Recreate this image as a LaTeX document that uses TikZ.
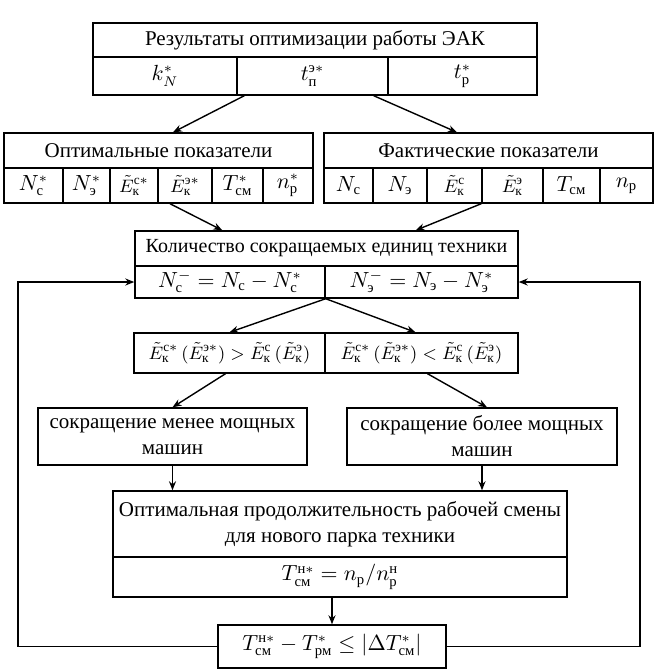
\documentclass[tikz,border=0pt]{standalone}
\usepackage{amsmath}
\usepackage{fontspec}
\setmainfont{Liberation Serif}
\usetikzlibrary{arrows.meta}
\tikzset{every node/.style={rectangle,draw,line width=0.7pt,inner sep=0pt,align=center}}
\tikzset{t/.style={font=\fontsize{10.5}{13}\selectfont}}
\tikzset{sm/.style={font=\fontsize{9.5}{12}\selectfont}}
\newcommand{\cy}[1]{\text{#1}}

\begin{document}
\begin{tikzpicture}[x=0.5pt,y=-0.5pt,t,line width=0.7pt,>={Stealth[length=4.5pt,width=3.5pt]}]
  \useasboundingbox (0,0) rectangle (655,671);
  % results
  \node[minimum width=222pt,minimum height=17pt] (res) at (315,40) {Результаты оптимизации работы ЭАК};
  \node[minimum width=72pt,minimum height=19pt] (kn) at (165,76) {$k_N^*$};
  \node[minimum width=75.5pt,minimum height=19pt] (tp) at (312.5,76) {$t_{\cy{п}}^{\cy{э}*}$};
  \node[minimum width=74.5pt,minimum height=19pt] (tr) at (462.5,76) {$t_{\cy{р}}^*$};
  % optimal
  \node[minimum width=154.5pt,minimum height=17.5pt] (opt) at (158.5,150.5) {Оптимальные показатели};
  \node[minimum width=29.5pt,minimum height=17.5pt] (oNc) at (33.5,185.5) {$N_{\cy{с}}^*$};
  \node[minimum width=23.5pt,minimum height=17.5pt] (oNe) at (86.5,185.5) {$N_{\cy{э}}^*$};
  \node[minimum width=24pt,minimum height=17.5pt,sm] (oEc) at (134,185.5) {$\tilde E_{\cy{к}}^{\cy{с}*}$};
  \node[minimum width=27pt,minimum height=17.5pt,sm] (oEe) at (185,185.5) {$\tilde E_{\cy{к}}^{\cy{э}*}$};
  \node[minimum width=25.5pt,minimum height=17.5pt] (oT) at (237.5,185.5) {$T_{\cy{см}}^*$};
  \node[minimum width=25pt,minimum height=17.5pt] (on) at (288,185.5) {$n_{\cy{р}}^*$};
  % actual
  \node[minimum width=164.5pt,minimum height=17.5pt] (fact) at (488.5,150.5) {Фактические показатели};
  \node[minimum width=24.5pt,minimum height=17.5pt] (fNc) at (348.5,185.5) {$N_{\cy{с}}$};
  \node[minimum width=27pt,minimum height=17.5pt] (fNe) at (400,185.5) {$N_{\cy{э}}$};
  \node[minimum width=27.5pt,minimum height=17.5pt,sm] (fEc) at (454.5,185.5) {$\tilde E_{\cy{к}}^{\cy{с}}$};
  \node[minimum width=30.5pt,minimum height=17.5pt,sm] (fEe) at (512.5,185.5) {$\tilde E_{\cy{к}}^{\cy{э}}$};
  \node[minimum width=28.5pt,minimum height=17.5pt] (fT) at (571.5,185.5) {$T_{\cy{см}}$};
  \node[minimum width=26.5pt,minimum height=17.5pt] (fn) at (626.5,185.5) {$n_{\cy{р}}$};
  % reduced units
  \node[minimum width=191.5pt,minimum height=17.5pt,font=\fontsize{10}{12}\selectfont] (qty) at (326.5,248.5) {Количество сокращаемых единиц техники};
  \node[minimum width=95pt,minimum height=16pt] (nc) at (230,282) {$N_{\cy{с}}^- = N_{\cy{с}} - N_{\cy{с}}^*$};
  \node[minimum width=96.5pt,minimum height=16pt] (ne) at (421.5,282) {$N_{\cy{э}}^- = N_{\cy{э}} - N_{\cy{э}}^*$};
  % comparison
  \node[minimum width=95.5pt,minimum height=20pt,sm] (gt) at (229.5,353) {$\tilde E_{\cy{к}}^{\cy{с}*}\,(\tilde E_{\cy{к}}^{\cy{э}*}) > \tilde E_{\cy{к}}^{\cy{с}}\,(\tilde E_{\cy{к}}^{\cy{э}})$};
  \node[minimum width=96.5pt,minimum height=20pt,sm] (lt) at (421.5,353) {$\tilde E_{\cy{к}}^{\cy{с}*}\,(\tilde E_{\cy{к}}^{\cy{э}*}) < \tilde E_{\cy{к}}^{\cy{с}}\,(\tilde E_{\cy{к}}^{\cy{э}})$};
  \node[minimum width=134.5pt,minimum height=28.5pt] (less) at (172.5,436.5) {сокращение менее мощных\\машин};
  \node[minimum width=135pt,minimum height=28.5pt] (more) at (482,436.5) {сокращение более мощных\\машин};
  % new shift
  \node[minimum width=227pt,minimum height=33pt] (opt2) at (340,524) {Оптимальная продолжительность рабочей смены\\для нового парка техники};
  \node[minimum width=227pt,minimum height=20pt] (tnew) at (340,577) {$T_{\cy{см}}^{\cy{н}*} = n_{\cy{р}}/n_{\cy{р}}^{\cy{н}}$};
  \node[minimum width=114pt,minimum height=21.5pt] (chk) at (332,646.5) {$T_{\cy{см}}^{\cy{н}*} - T_{\cy{рм}}^* \le |\Delta T_{\cy{см}}^*|$};
  \coordinate (lb) at (18,646.5);
  \coordinate (rb) at (640,646.5);
    \draw[->] ([xshift=4pt]tp.south west) -- ([xshift=7.25pt]opt.north);
    \draw[->] ([xshift=-7.5pt]tp.south east) -- ([xshift=-15.75pt]fact.north);
    \draw[->] ([xshift=-7.5pt]oEe.south) -- ([xshift=44pt]qty.north west);
    \draw[->] (fEe.south west) -- ([xshift=-51.5pt]qty.north east);
    \draw[->] (nc.south east) -- (gt.north);
    \draw[->] (nc.south east) -- ([xshift=-3pt]lt.north);
    \draw[->] ([xshift=-2pt]gt.south) -- (less.north);
    \draw[->] ([xshift=3pt]lt.south) -- ([xshift=2.5pt]more.north);
    \draw[->] (less.south) -- (less.south |- opt2.north);
    \draw[->] (more.south) -- (more.south |- opt2.north);
    \draw[->] (chk.north |- tnew.south) -- (chk.north);
    \draw[->] (chk.west) -- (lb) |- (nc.west);
    \draw[->] (chk.east) -- (rb) |- (ne.east);
\end{tikzpicture}
\end{document}
